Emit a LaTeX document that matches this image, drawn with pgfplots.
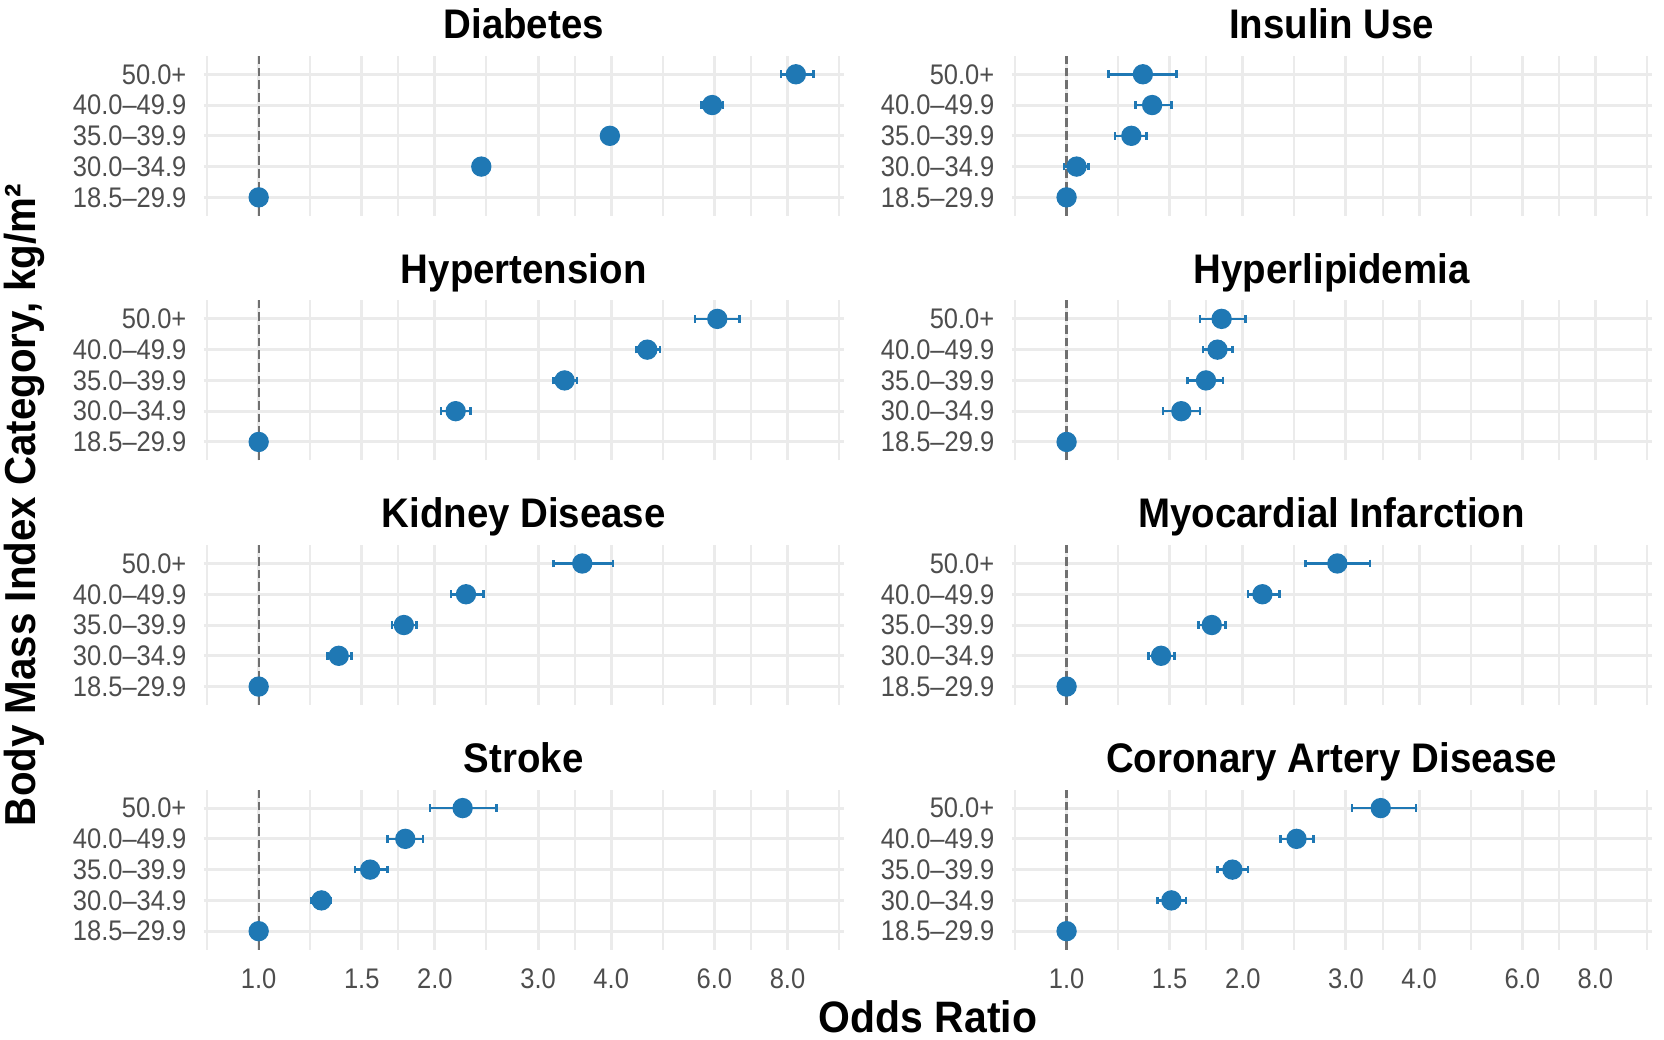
\documentclass[border=0pt]{standalone}
\usepackage{pgfplots}
\pgfplotsset{compat=1.18}
\usepackage{pgfplotstable}
\usepackage{fontspec}
\setmainfont{Liberation Sans}
\newfontfamily\tickfont[FakeStretch=0.9]{Liberation Sans}
\newfontfamily\headfont[FakeStretch=0.93]{Liberation Sans}

\definecolor{ptblue}{HTML}{1F78B4}
\definecolor{gridgray}{HTML}{EBEBEB}
\definecolor{ticktext}{HTML}{4D4D4D}
\definecolor{refline}{HTML}{707070}

% cat: 1 = 18.5–29.9, 2 = 30.0–34.9, 3 = 35.0–39.9, 4 = 40.0–49.9, 5 = 50.0+
% or = odds ratio, lo/hi = 95% confidence limits
\pgfplotstableread{
cat or   lo   hi
1   1.00 1.00 1.00
2   2.40 2.35 2.45
3   3.98 3.89 4.07
4   5.95 5.70 6.21
5   8.27 7.80 8.87
}\tabDiabetes
\pgfplotstableread{
cat or   lo   hi
1   1.00 1.00 1.00
2   1.04 0.99 1.09
3   1.29 1.21 1.37
4   1.40 1.31 1.51
5   1.35 1.18 1.54
}\tabInsulin
\pgfplotstableread{
cat or   lo   hi
1   1.00 1.00 1.00
2   2.17 2.05 2.30
3   3.33 3.19 3.50
4   4.61 4.42 4.85
5   6.07 5.56 6.63
}\tabHypertension
\pgfplotstableread{
cat or   lo   hi
1   1.00 1.00 1.00
2   1.57 1.46 1.69
3   1.73 1.61 1.85
4   1.81 1.71 1.92
5   1.84 1.69 2.02
}\tabHyperlipidemia
\pgfplotstableread{
cat or   lo   hi
1   1.00 1.00 1.00
2   1.37 1.31 1.44
3   1.77 1.69 1.86
4   2.26 2.13 2.42
5   3.57 3.19 4.03
}\tabKidney
\pgfplotstableread{
cat or   lo   hi
1   1.00 1.00 1.00
2   1.45 1.38 1.53
3   1.77 1.68 1.87
4   2.16 2.04 2.31
5   2.90 2.56 3.30
}\tabMI
\pgfplotstableread{
cat or   lo   hi
1   1.00 1.00 1.00
2   1.28 1.23 1.33
3   1.55 1.46 1.66
4   1.78 1.66 1.91
5   2.23 1.96 2.55
}\tabStroke
\pgfplotstableread{
cat or   lo   hi
1   1.00 1.00 1.00
2   1.51 1.43 1.60
3   1.92 1.81 2.04
4   2.47 2.32 2.64
5   3.44 3.07 3.95
}\tabCAD

\pgfplotsset{
  facetaxis/.style={
    scale only axis, width=192pt, height=48pt,
    anchor=north west, clip=false,
    xmin=0.8056, xmax=9.98,
    ymin=0.4, ymax=5.6,
    axis line style={draw=none},
    major tick length=0pt, minor tick length=0pt,
    tick style={draw=none},
    xtick={1,1.5,2,3,4,6,8},
    minor xtick={0.8165,1.2247,1.7321,2.4495,3.4641,4.899,6.9282,9.798},
    xticklabels={},
    ytick={1,2,3,4,5},
    yticklabels={18.5–29.9,30.0–34.9,35.0–39.9,40.0–49.9,50.0+},
    xmajorgrids, xminorgrids, ymajorgrids,
    major grid style={gridgray, line width=0.9pt},
    minor grid style={gridgray, line width=0.6pt},
    yticklabel style={font=\tickfont\fontsize{8.5}{10}\selectfont, text=ticktext,
      inner sep=0pt, anchor=east, xshift=-5pt},
  },
  facetbottom/.style={
    xticklabels={1.0,1.5,2.0,3.0,4.0,6.0,8.0},
    xticklabel style={font=\tickfont\fontsize{8.5}{10}\selectfont, text=ticktext,
      inner sep=0pt, anchor=north, yshift=-5.5pt},
  },
}

% one facet: #1 left, #2 top, #3 table, #4 title, #5 extra axis options
\newcommand{\facet}[5]{%
  \begin{semilogxaxis}[facetaxis, at={(#1,#2)}, #5]
    \addplot[ptblue, only marks, mark=*, mark size=2.85pt,
      error bars/.cd, x dir=both, x explicit, error mark=|,
      error bar style={line width=0.75pt},
      error mark options={ptblue, line width=0.75pt, mark size=1.15pt}]
      table[x=or, y=cat,
        x error plus expr=\thisrow{hi}-\thisrow{or},
        x error minus expr=\thisrow{or}-\thisrow{lo}] {#3};
    \addplot[refline, line width=0.7pt, dash pattern=on 2.6pt off 1.2pt]
      coordinates {(1,0.4) (1,5.6)};
    \node[anchor=base, yshift=5.2pt, font=\headfont\fontsize{12.4}{14}\selectfont\bfseries]
      at (rel axis cs:0.5,1) {#4};
  \end{semilogxaxis}}

\begin{document}
\begin{tikzpicture}
  \useasboundingbox (0pt,0pt) rectangle (499.2pt,-311.7pt);
  \facet{61.11pt}{-16.74pt}{\tabDiabetes}{Diabetes}{}
  \facet{303.48pt}{-16.74pt}{\tabInsulin}{Insulin Use}{}
  \facet{61.11pt}{-90.12pt}{\tabHypertension}{Hypertension}{}
  \facet{303.48pt}{-90.12pt}{\tabHyperlipidemia}{Hyperlipidemia}{}
  \facet{61.11pt}{-163.5pt}{\tabKidney}{Kidney Disease}{}
  \facet{303.48pt}{-163.5pt}{\tabMI}{Myocardial Infarction}{}
  \facet{61.11pt}{-236.88pt}{\tabStroke}{Stroke}{facetbottom}
  \facet{303.48pt}{-236.88pt}{\tabCAD}{Coronary Artery Disease}{facetbottom}
  \node[anchor=base, font=\headfont\fontsize{13.2}{15}\selectfont\bfseries]
    at (278.4pt,-309.6pt) {Odds Ratio};
  \node[anchor=base, rotate=90, font=\headfont\fontsize{13}{15}\selectfont\bfseries]
    at (10.5pt,-151.5pt) {Body Mass Index Category, kg/m²};
\end{tikzpicture}
\end{document}
